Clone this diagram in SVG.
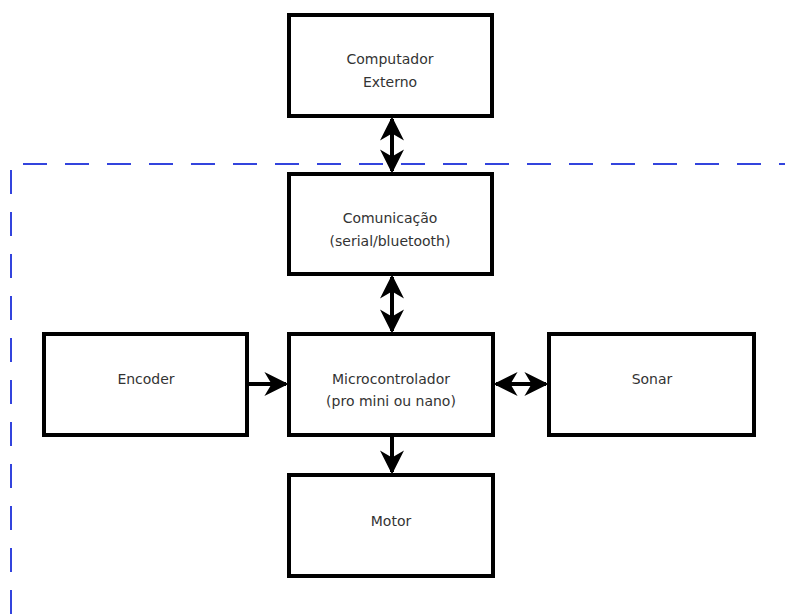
<svg xmlns="http://www.w3.org/2000/svg" width="785" height="614" viewBox="0 0 785 614">
<style>
.box{fill:#fff;stroke:#000;stroke-width:4}
.lbl{font-family:"DejaVu Sans",sans-serif;font-size:14px;fill:#333;text-anchor:middle}
.conn{stroke:#000;stroke-width:4;fill:none}
.dash{stroke:#3344dd;stroke-width:2;fill:none;stroke-dasharray:24 18}
</style>
<defs>
<marker id="ah" viewBox="0 0 10 10" refX="9" refY="5" markerWidth="6" markerHeight="6" orient="auto-start-reverse" markerUnits="strokeWidth">
<path d="M0,0 L10,5 L0,10 L3,5 z" fill="#000"/>
</marker>
</defs>
<rect width="785" height="614" fill="#fff"/>
<path class="dash" d="M11,614 L11,164 L785,164"/>
<g id="computador">
<rect class="box" x="289" y="15" width="203" height="101"/>
<text class="lbl" x="390" y="64">Computador</text>
<text class="lbl" x="390" y="87">Externo</text>
</g>
<g id="comunicacao">
<rect class="box" x="289" y="174" width="203" height="100"/>
<text class="lbl" x="390" y="223">Comunicação</text>
<text class="lbl" x="390" y="246">(serial/bluetooth)</text>
</g>
<g id="microcontrolador">
<rect class="box" x="289" y="334" width="204" height="101"/>
<text class="lbl" x="391" y="384">Microcontrolador</text>
<text class="lbl" x="391" y="406">(pro mini ou nano)</text>
</g>
<g id="encoder">
<rect class="box" x="44" y="334" width="203" height="101"/>
<text class="lbl" x="146" y="384">Encoder</text>
</g>
<g id="sonar">
<rect class="box" x="549" y="334" width="205" height="101"/>
<text class="lbl" x="652" y="384">Sonar</text>
</g>
<g id="motor">
<rect class="box" x="289" y="475" width="204" height="101"/>
<text class="lbl" x="391" y="526">Motor</text>
</g>
<g id="connectors">
<line class="conn" x1="392" y1="119" x2="392" y2="171" marker-start="url(#ah)" marker-end="url(#ah)"/>
<line class="conn" x1="392" y1="277" x2="392" y2="331" marker-start="url(#ah)" marker-end="url(#ah)"/>
<line class="conn" x1="249" y1="384" x2="286" y2="384" marker-end="url(#ah)"/>
<line class="conn" x1="496" y1="384" x2="546" y2="384" marker-start="url(#ah)" marker-end="url(#ah)"/>
<line class="conn" x1="392" y1="437" x2="392" y2="472" marker-end="url(#ah)"/>
</g>
</svg>
